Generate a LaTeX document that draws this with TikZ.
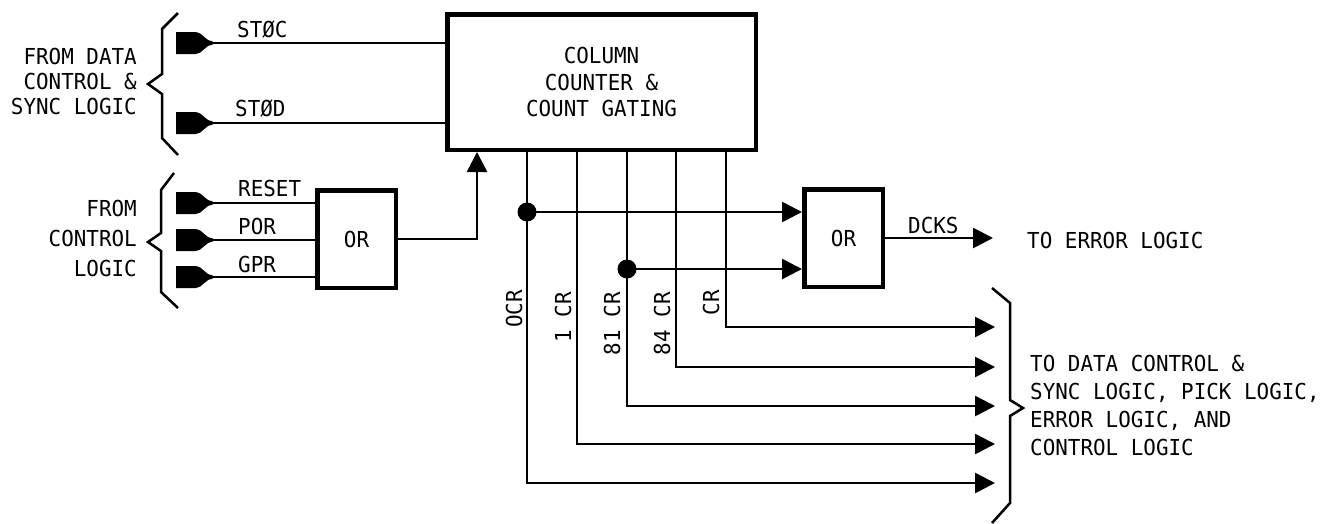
\documentclass[tikz,border=0pt]{standalone}
\usepackage{fontspec}
\newfontfamily\diagfont[FakeStretch=0.95]{DejaVu Sans Mono}
\newcommand\dfont[1]{\diagfont\fontsize{22}{#1}\selectfont}
\usetikzlibrary{arrows.meta,calc}
\begin{document}
\begin{tikzpicture}[x=1pt,y=-1pt,
  lbl/.style={font=\dfont{25}, inner sep=0pt},
  wire/.style={line width=2.6pt},
  thickbox/.style={draw, line width=4.5pt, rectangle, inner sep=0pt},
  arr/.style={wire, -{Triangle[length=20pt,width=20pt]}},
  bracel/.style={line width=2.5pt, line join=miter},
  plug/.pic={\fill (0,-11) -- (20,-11) .. controls (26,-11) and (30,-1.4) .. (37,-1.4) -- (37,1.4) .. controls (30,1.4) and (26,11) .. (20,11) -- (0,11) -- cycle;}
]
\useasboundingbox (0,0) rectangle (1340,523);

% main block
\node[thickbox, minimum width=308.5pt, minimum height=135.5pt, align=center, font=\dfont{26.5}] (main) at (601.5,82) {COLUMN\\COUNTER \&\\COUNT GATING};
\node[thickbox, minimum width=78.5pt, minimum height=97.5pt, font=\dfont{25}] (or1) at (356.5,239) {OR};
\node[thickbox, minimum width=78.5pt, minimum height=97.5pt, font=\dfont{25}] (or2) at (843.5,238) {OR};

% left inputs
\foreach \n/\y in {c/43,d/123,r/203,p/240,g/277}{
  \pic at (176,\y) {plug};
  \coordinate (p\n) at (212,\y);
}
\draw[wire] (pc) -- (pc -| main.west);
\draw[wire] (pd) -- (pd -| main.west);
\draw[wire] (pr) -- (pr -| or1.west);
\draw[wire] (pp) -- (pp -| or1.west);
\draw[wire] (pg) -- (pg -| or1.west);

\node[lbl, anchor=base west] (stc) at (237,37) {STØC};
\node[lbl, anchor=base west] (std) at (235,116) {STØD};
\node[lbl, anchor=base west] (rst) at (238,196) {RESET};
\node[lbl, anchor=base west] (por) at (238,234) {POR};
\node[lbl, anchor=base west] (gpr) at (238,272) {GPR};

% braces and source texts
\draw[bracel] (178,13) -- (162,29) -- (162,74) -- (148,84) -- (162,94) -- (162,138) -- (178,155);
\draw[bracel] (174,173) -- (161,190) -- (161,233) -- (148,242) -- (161,251) -- (161,292) -- (178,308);
\node[lbl, align=right, anchor=east, font=\dfont{25}] (fromdata) at (137,81) {FROM DATA\\CONTROL \&\\SYNC LOGIC};
\node[lbl, align=right, anchor=east, font=\dfont{30}] (fromctl) at (137,238) {FROM\\CONTROL\\LOGIC};

% OR1 to main block
\coordinate (up) at (477,0);
\draw[arr] (or1.east) -| (up |- main.south);

% counter outputs
\foreach \n/\x/\y in {0/527/483,1/577/444,2/627/406,3/676/367,4/726/327}{
  \coordinate (tap\n) at (\x,0);
  \coordinate (t\n) at (995,\y);
  \draw[arr] (tap\n |- main.south) |- (t\n);
}
\node[lbl, rotate=90, anchor=east] (l0) at (514,290) {OCR};
\node[lbl, rotate=90, anchor=east] (l1) at (563,292) {1 CR};
\node[lbl, rotate=90, anchor=east] (l2) at (612,292) {81 CR};
\node[lbl, rotate=90, anchor=east] (l3) at (662,292) {84 CR};
\node[lbl, rotate=90, anchor=east] (l4) at (711,290) {CR};

% taps to OR2
\coordinate (d0) at (527,212);
\coordinate (d1) at (627,269);
\fill (d0) circle (9.5);
\fill (d1) circle (9.5);
\draw[arr] (d0) -- (d0 -| or2.west);
\draw[arr] (d1) -- (d1 -| or2.west);

% OR2 output
\coordinate (errend) at (993,0);
\draw[arr] (or2.east) -- (or2.east -| errend);
\node[lbl, anchor=base west] (dcks) at (908,233) {DCKS};
\node[lbl, anchor=west] (toerr) at (1027,240) {TO ERROR LOGIC};

% right brace and destination text
\draw[bracel] (992,288) -- (1010,303) -- (1010,400) -- (1023,408) -- (1010,416) -- (1010,503) -- (992,523);
\node[lbl, align=left, anchor=west, font=\dfont{28}] (todata) at (1030,405) {TO DATA CONTROL \&\\SYNC LOGIC, PICK LOGIC,\\ERROR LOGIC, AND\\CONTROL LOGIC};
\end{tikzpicture}
\end{document}
